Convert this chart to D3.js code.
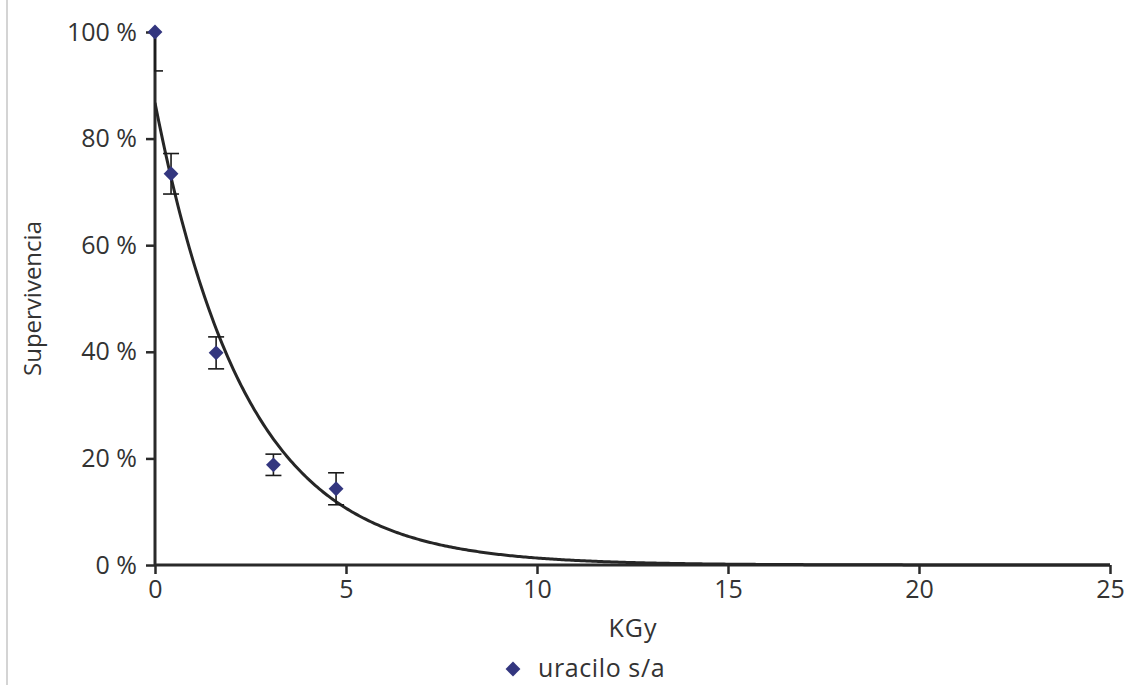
<!DOCTYPE html>
<html>
<head>
<meta charset="utf-8">
<script src="https://cdn.jsdelivr.net/npm/d3@7"></script>
<style>
  html, body { margin: 0; padding: 0; background: #fff; }
  svg { display: block; }
  text { font-family: "Open Sans", "DejaVu Sans", sans-serif; fill: #333; }
</style>
</head>
<body>
<svg id="chart" width="1133" height="685"></svg>
<script>
// Survival of uracil (s/a) versus absorbed dose
const doses = [0, 0.42, 1.6, 3.1, 4.74];          // KGy
const survival = [100, 73.4, 39.8, 18.8, 14.3];   // %
const errors = [7.3, 3.8, 3.0, 2.0, 3.0];         // ± %
const xTicks = [0, 5, 10, 15, 20, 25];
const yTicks = [0, 20, 40, 60, 80, 100];
const seriesName = "uracilo s/a";

const svg = d3.select("#chart");
const W = 1133, H = 685;

// thin frame line along the left edge
svg.append("line")
  .attr("x1", 7).attr("x2", 7).attr("y1", 0).attr("y2", H)
  .attr("stroke", "#d4d4d4").attr("stroke-width", 2);

const x = d3.scaleLinear().domain([0, 25]).range([155, 1110]);
const y = d3.scaleLinear().domain([0, 100]).range([565, 32]);

// exponential trendline: least squares on ln(survival)
const lnY = survival.map(Math.log);
const mx = d3.mean(doses), my = d3.mean(lnY);
const sxy = d3.sum(doses, (d, i) => (d - mx) * (lnY[i] - my));
const sxx = d3.sum(doses, d => (d - mx) ** 2);
const k = sxy / sxx;
const A = Math.exp(my - k * mx);
const fitX = d3.range(0, 25.001, 0.05);

const defs = svg.append("defs");
defs.append("clipPath").attr("id", "clip")
  .append("rect").attr("x", x(0) - 1).attr("y", y(100) - 2)
  .attr("width", x(25) - x(0) + 10).attr("height", y(0) - y(100) + 4);

// axes
const xAxis = d3.axisBottom(x).tickValues(xTicks).tickSize(9).tickPadding(6).tickFormat(d3.format("d"));
const yAxis = d3.axisLeft(y).tickValues(yTicks).tickSize(9).tickPadding(9).tickFormat(d => d + " %");

const gx = svg.append("g").attr("transform", `translate(0,${y(0)})`).call(xAxis);
const gy = svg.append("g").attr("transform", `translate(${x(0)},0)`).call(yAxis);
[gx, gy].forEach(g => {
  g.select(".domain").attr("stroke", "#2a2a2a").attr("stroke-width", 3);
  g.selectAll(".tick line").attr("stroke", "#2a2a2a").attr("stroke-width", 2.5);
  g.selectAll(".tick text").style("font-size", "25px").attr("fill", "#333");
});
gx.select(".domain").attr("d", `M${x(0)},0H${x(25)}`);
gy.select(".domain").attr("d", `M0,${y(0)}V${y(100)}`);

const plot = svg.append("g");

// trendline
plot.append("path")
  .datum(fitX)
  .attr("clip-path", "url(#clip)")
  .attr("fill", "none")
  .attr("stroke", "#262626")
  .attr("stroke-width", 3)
  .attr("d", d3.line().x(d => x(d)).y(d => y(A * Math.exp(k * d))));

// error bars
const eb = plot.append("g").attr("clip-path", "url(#clip)")
  .attr("stroke", "#1a1a1a").attr("stroke-width", 1.6);
doses.forEach((d, i) => {
  const cx = x(d), lo = y(survival[i] - errors[i]), hi = y(survival[i] + errors[i]);
  eb.append("line").attr("x1", cx).attr("x2", cx).attr("y1", lo).attr("y2", hi);
  eb.append("line").attr("x1", cx - 8).attr("x2", cx + 8).attr("y1", lo).attr("y2", lo);
  eb.append("line").attr("x1", cx - 8).attr("x2", cx + 8).attr("y1", hi).attr("y2", hi);
});

// markers
const diamond = d3.symbol().type(d3.symbolDiamond2).size(140);
plot.selectAll(".pt").data(doses).join("path")
  .attr("class", "pt")
  .attr("transform", (d, i) => `translate(${x(d)},${y(survival[i])})`)
  .attr("d", diamond)
  .attr("fill", "#33367f");

// axis titles
svg.append("text")
  .attr("x", 633).attr("y", 637)
  .attr("text-anchor", "middle").style("font-size", "25px")
  .style("letter-spacing", "1px")
  .text("KGy");
svg.append("text")
  .attr("transform", `translate(41,${(y(0) + y(100)) / 2}) rotate(-90)`)
  .attr("text-anchor", "middle").style("font-size", "24px")
  .text("Supervivencia");

// legend
svg.append("path")
  .attr("transform", "translate(513,669)")
  .attr("d", d3.symbol().type(d3.symbolDiamond2).size(140))
  .attr("fill", "#33367f");
svg.append("text")
  .attr("x", 538).attr("y", 677)
  .style("font-size", "25px")
  .style("letter-spacing", "0.6px")
  .text(seriesName);
</script>
</body>
</html>
